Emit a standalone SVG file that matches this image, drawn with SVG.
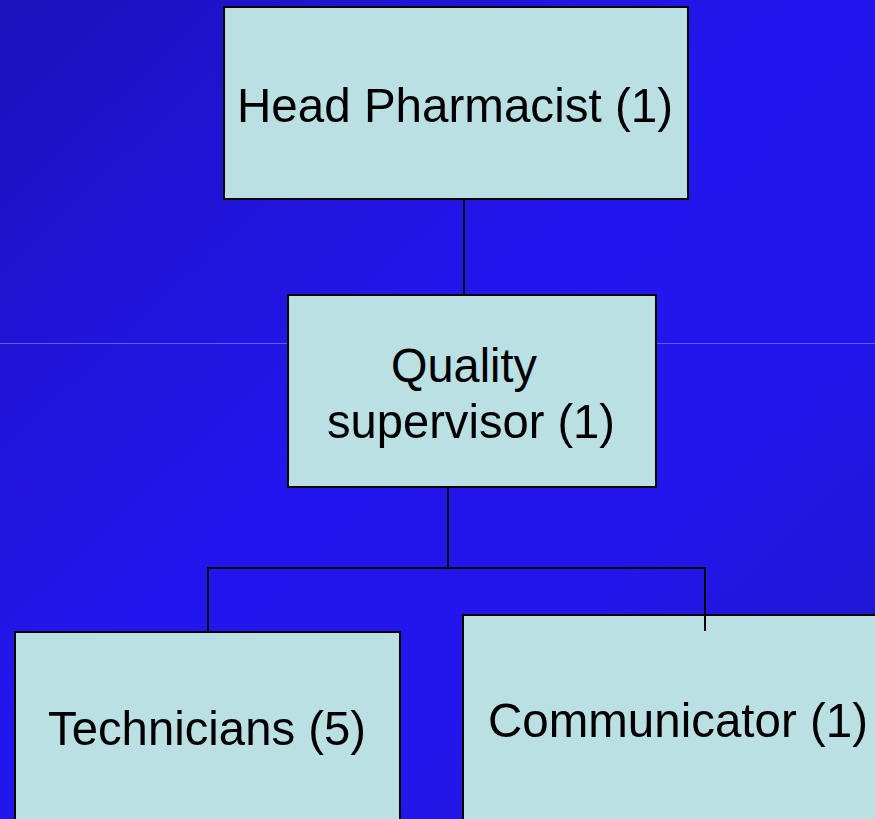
<svg xmlns="http://www.w3.org/2000/svg" width="875" height="819" viewBox="0 0 875 819">
<defs>
<linearGradient id="bg" x1="0" y1="0" x2="1" y2="1">
<stop offset="0" stop-color="#1c12bc"/>
<stop offset="0.45" stop-color="#2216ee"/>
<stop offset="0.7" stop-color="#2216ec"/>
<stop offset="1" stop-color="#1f17c4"/>
</linearGradient>
<style>
.box{fill:#bae0e3;stroke:#000;stroke-width:2}
.lbl{font-family:"Liberation Sans",Arial,sans-serif;font-size:49px;fill:#000}
.con{stroke:#000;stroke-width:2;fill:none}
</style>
</defs>
<rect x="0" y="0" width="875" height="819" fill="url(#bg)"/>
<line x1="0" y1="343.5" x2="875" y2="343.5" stroke="#5e5cf2" stroke-width="1"/>
<g id="connectors">
<line class="con" x1="464" y1="199" x2="464" y2="295"/>
<polyline class="con" points="448,487 448,568"/>
<polyline class="con" points="208,632 208,568 705,568 705,631"/>
</g>
<g id="head">
<rect class="box" x="224" y="7" width="464" height="192"/>
<text class="lbl" x="237" y="122" textLength="436" lengthAdjust="spacingAndGlyphs">Head Pharmacist (1)</text>
</g>
<g id="quality">
<rect class="box" x="288" y="295" width="368" height="192"/>
<text class="lbl" x="391" y="382" textLength="146" lengthAdjust="spacingAndGlyphs">Quality</text>
<text class="lbl" x="327" y="438" textLength="288" lengthAdjust="spacingAndGlyphs">supervisor (1)</text>
</g>
<g id="technicians">
<rect class="box" x="15" y="632" width="385" height="200"/>
<text class="lbl" x="48" y="745" textLength="318" lengthAdjust="spacingAndGlyphs">Technicians (5)</text>
</g>
<g id="communicator">
<rect class="box" x="463" y="615" width="430" height="220"/>
<text class="lbl" x="488" y="737" textLength="380" lengthAdjust="spacingAndGlyphs">Communicator (1)</text>
</g>
<line class="con" x1="705" y1="615" x2="705" y2="631" stroke-width="1.5"/>
</svg>
